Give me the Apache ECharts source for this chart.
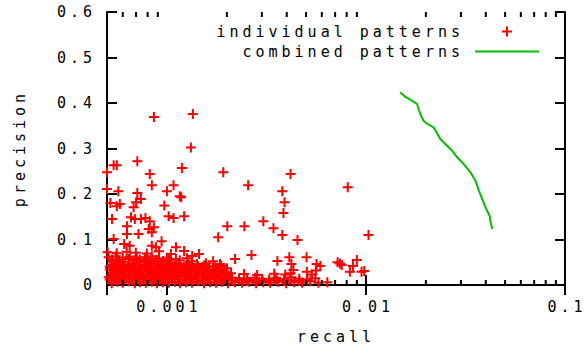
<!DOCTYPE html>
<html><head><meta charset="utf-8">
<script src="https://cdn.jsdelivr.net/npm/echarts@6/dist/echarts.min.js"></script>
<style>html,body{margin:0;padding:0;background:#fff}#main{width:587px;height:349px;letter-spacing:4px}</style>
</head><body><div id="main"></div>
<script>
// ---- data ----
var seriesNames = ['individual patterns', 'combined patterns'];
var axisNames = { x: 'recall', y: 'precision' };
var xMin = 0.0005, xMax = 0.1;
var yTicks = [0, 0.1, 0.2, 0.3, 0.4, 0.5, 0.6];
var xMinorTicks = [0.0006, 0.0007, 0.0008, 0.0009, 0.002, 0.003, 0.004, 0.005, 0.006, 0.007, 0.008, 0.009,
  0.02, 0.03, 0.04, 0.05, 0.06, 0.07, 0.08, 0.09];

// individual patterns: [recall, precision]
var individualSparse = [
  [0.00086,0.369],[0.00135,0.376],[0.00132,0.302],[0.00071,0.272],[0.00054,0.263],[0.00056,0.263],
  [0.00050,0.248],[0.00082,0.244],[0.00119,0.257],[0.00192,0.248],[0.00418,0.244],[0.00084,0.219],
  [0.00108,0.219],[0.00100,0.206],[0.00050,0.211],[0.00057,0.206],[0.00071,0.202],[0.00116,0.195],
  [0.00256,0.219],[0.00380,0.206],[0.0081,0.215],[0.00052,0.180],[0.00056,0.173],[0.00058,0.178],
  [0.00074,0.189],[0.00097,0.175],[0.00118,0.193],[0.00068,0.171],[0.00070,0.182],[0.00049,0.145],
  [0.00053,0.145],[0.00066,0.149],[0.00069,0.145],[0.00074,0.145],[0.00078,0.147],[0.00082,0.140],
  [0.00102,0.151],[0.00108,0.147],[0.00122,0.151],[0.00063,0.129],[0.00072,0.112],[0.00063,0.112],
  [0.00081,0.123],[0.00086,0.127],[0.00084,0.116],[0.00054,0.101],[0.00094,0.096],[0.00061,0.090],
  [0.00065,0.086],[0.00084,0.086],[0.00088,0.083],[0.00111,0.083],[0.00122,0.075],[0.00134,0.064],
  [0.00145,0.068],[0.0039,0.182],[0.00385,0.158],[0.00201,0.129],[0.00245,0.129],[0.00305,0.140],
  [0.00343,0.125],[0.00380,0.110],[0.00181,0.105],[0.00453,0.099],[0.0103,0.110],[0.00220,0.057],
  [0.00266,0.066],[0.00359,0.053],[0.00412,0.061],[0.00422,0.046],[0.00503,0.061],[0.00565,0.046],
  [0.00720,0.050],[0.00756,0.044],[0.0083,0.029],[0.0086,0.042],[0.0090,0.055],[0.0095,0.029],
  [0.0098,0.031],[0.0059,0.042],[0.0074,0.047],[0.00432,0.033],[0.00418,0.026],[0.00505,0.029],
  [0.00535,0.023],[0.00560,0.032]
];
var individualDense = [
  [0.000499,0.006],[0.000528,0.004],[0.000566,0.007],[0.000600,0.005],[0.000644,0.008],[0.000690,0.004],
  [0.000731,0.006],[0.000784,0.005],[0.000840,0.007],[0.000891,0.004],[0.000955,0.006],[0.001023,0.005],
  [0.001097,0.007],[0.001162,0.004],[0.001247,0.006],[0.001336,0.005],[0.001433,0.008],[0.001536,0.004],
  [0.001647,0.006],[0.001766,0.005],[0.001893,0.007],[0.002029,0.004],[0.002201,0.006],[0.002386,0.005],
  [0.002588,0.007],[0.002806,0.004],[0.003045,0.006],[0.003303,0.005],[0.003623,0.007],[0.003976,0.004],
  [0.004365,0.006],[0.004786,0.005],[0.005248,0.008],[0.005768,0.005],[0.006397,0.006],
  [0.000516,0.012],[0.000547,0.011],[0.000586,0.013],[0.000621,0.012],[0.000667,0.011],[0.000714,0.013],
  [0.000757,0.012],[0.000811,0.011],[0.000871,0.013],[0.000922,0.012],[0.000988,0.011],[0.001060,0.013],
  [0.001136,0.012],[0.001218,0.011],[0.001306,0.013],[0.001400,0.012],[0.001500,0.011],[0.001609,0.013],
  [0.001726,0.012],[0.001849,0.011],[0.001982,0.013],[0.002125,0.010],[0.002305,0.011],[0.002529,0.009],
  [0.002774,0.011],[0.003010,0.009],[0.003265,0.010],[0.003540,0.011],[0.003884,0.009],[0.004217,0.010],
  [0.004624,0.009],[0.005070,0.010],
  [0.000510,0.017],[0.000547,0.019],[0.000586,0.016],[0.000621,0.018],[0.000667,0.017],[0.000714,0.019],
  [0.000757,0.016],[0.000811,0.018],[0.000871,0.017],[0.000922,0.019],[0.000988,0.016],[0.001060,0.018],
  [0.001136,0.017],[0.001218,0.019],[0.001306,0.016],[0.001400,0.018],[0.001500,0.017],[0.001609,0.019],
  [0.001726,0.016],[0.001849,0.018],[0.001982,0.017],[0.002125,0.016],[0.002305,0.015],[0.002529,0.013],
  [0.002774,0.016],[0.003010,0.014],[0.003265,0.012],[0.003540,0.016],[0.003884,0.013],[0.004217,0.017],
  [0.004624,0.014],[0.005070,0.012],[0.005565,0.015],
  [0.000499,0.023],[0.000528,0.022],[0.000566,0.024],[0.000600,0.023],[0.000644,0.022],[0.000690,0.024],
  [0.000731,0.023],[0.000784,0.022],[0.000840,0.024],[0.000891,0.023],[0.000955,0.022],[0.001023,0.024],
  [0.001097,0.023],[0.001162,0.022],[0.001247,0.024],[0.001336,0.023],[0.001433,0.022],[0.001536,0.024],
  [0.001647,0.023],[0.001766,0.022],[0.001893,0.024],[0.002029,0.021],
  [0.000499,0.029],[0.000535,0.027],[0.000566,0.030],[0.000607,0.028],[0.000651,0.031],[0.000698,0.027],
  [0.000740,0.029],[0.000793,0.028],[0.000850,0.030],[0.000912,0.027],[0.000977,0.029],[0.001047,0.028],
  [0.001123,0.030],[0.001204,0.027],[0.001291,0.029],[0.001384,0.028],[0.001483,0.030],[0.001590,0.027],
  [0.001706,0.029],[0.001828,0.031],[0.001959,0.028],[0.002100,0.026],[0.002442,0.024],[0.002840,0.022],
  [0.003459,0.025],[0.003930,0.023],
  [0.000516,0.034],[0.000547,0.033],[0.000586,0.035],[0.000621,0.034],[0.000667,0.033],[0.000714,0.035],
  [0.000757,0.034],[0.000811,0.033],[0.000871,0.035],[0.000922,0.034],[0.000988,0.033],[0.001060,0.035],
  [0.001136,0.034],[0.001218,0.032],[0.001306,0.035],[0.001400,0.033],[0.001500,0.032],[0.001609,0.034],
  [0.001726,0.033],[0.001849,0.035],
  [0.000516,0.040],[0.000553,0.038],[0.000593,0.041],[0.000636,0.039],[0.000682,0.040],[0.000731,0.038],
  [0.000775,0.041],[0.000830,0.039],[0.000891,0.040],[0.000955,0.038],[0.001023,0.041],[0.001097,0.039],
  [0.001190,0.037],[0.001291,0.040],[0.001400,0.036],[0.001518,0.038],[0.001628,0.041],[0.001746,0.039],
  [0.001871,0.042],[0.002005,0.037],
  [0.000499,0.045],[0.000528,0.044],[0.000566,0.046],[0.000600,0.045],[0.000644,0.044],[0.000690,0.046],
  [0.000731,0.045],[0.000784,0.044],[0.000840,0.046],[0.000891,0.045],[0.000955,0.044],[0.001023,0.046],
  [0.001097,0.043],[0.001162,0.045],[0.001247,0.042],[0.001336,0.044],[0.001433,0.041],[0.001536,0.043],
  [0.000499,0.050],[0.000535,0.052],[0.000573,0.049],[0.000614,0.051],[0.000667,0.048],[0.000714,0.052],
  [0.000766,0.050],[0.000821,0.049],[0.000881,0.051],[0.000944,0.048],[0.001035,0.050],[0.001149,0.047],
  [0.001276,0.049],[0.001416,0.046],[0.001572,0.048],[0.001706,0.052],[0.001849,0.046],
  [0.000528,0.056],[0.000566,0.055],[0.000644,0.057],[0.000690,0.055],[0.000731,0.056],[0.000784,0.054],
  [0.000840,0.057],[0.000891,0.055],[0.000955,0.053],[0.001023,0.055],[0.001162,0.054],[0.001336,0.052],
  [0.000510,0.061],[0.000553,0.063],[0.000600,0.060],[0.000651,0.062],[0.000706,0.059],[0.000775,0.061],
  [0.000840,0.063],[0.000912,0.058],[0.001000,0.060],[0.001110,0.057],[0.001261,0.059],
  [0.000504,0.072],[0.000560,0.070],[0.000628,0.073],[0.000698,0.071],[0.000793,0.069],[0.000912,0.074],
  [0.001047,0.068]
];

// combined patterns curve
var combinedRecall = [0.01486,0.01574,0.01702,0.01804,0.01874,0.01947,0.02064,0.02187,0.02276,0.02364,0.02506,
  0.02709,0.02872,0.03099,0.03351,0.03552,0.03691,0.03840,0.04022,0.04181,0.04230,0.04314];
var combinedPrecision = [0.4235,0.4138,0.4051,0.3978,0.3758,0.3611,0.3523,0.3466,0.3334,0.3209,0.3099,
  0.2952,0.2807,0.2659,0.2477,0.2292,0.2073,0.1890,0.1670,0.1523,0.1378,0.1231];

// ---- chart ----
var FONT = "'DejaVu Sans Mono', monospace";
var PLUS = 'path://M4,0H6V4H10V6H6V10H4V6H0V4H4Z';
var RED = '#ff0000', GREEN = '#00c000';

var individualData = individualSparse.concat(individualDense);
var combinedData = combinedRecall.map(function (r, i) { return [r, combinedPrecision[i]]; });

function fmtX(v) {
  var l = Math.log(v) / Math.LN10;
  if (Math.abs(l - Math.round(l)) > 1e-6) return '';
  return String(+v.toPrecision(6));
}

var axisLineStyle = { color: '#000', width: 2 };
var option = {
  animation: false,
  backgroundColor: '#fff',
  textStyle: { fontFamily: FONT, fontSize: 15, color: '#000' },
  grid: { left: 107, right: 22, top: 12, bottom: 63, containLabel: false },
  legend: [
    {
      data: [{ name: seriesNames[0], icon: PLUS }],
      right: 75, top: 24, orient: 'vertical', align: 'right', padding: 0,
      itemWidth: 10, itemHeight: 10, selectedMode: false,
      textStyle: { fontFamily: FONT, fontSize: 15, color: '#000', padding: [0, 33, 0, 0] }
    },
    {
      data: [{ name: seriesNames[1], icon: 'rect' }],
      right: 48, top: 44, orient: 'vertical', align: 'right', padding: 0,
      itemWidth: 64, itemHeight: 2, selectedMode: false,
      textStyle: { fontFamily: FONT, fontSize: 15, color: '#000', padding: [0, 6, 0, 0] }
    }
  ],
  xAxis: [
    {
      type: 'log', logBase: 10, min: xMin, max: xMax, position: 'bottom',
      name: axisNames.x, nameLocation: 'middle', nameGap: 44,
      nameTextStyle: { fontFamily: FONT, fontSize: 15, color: '#000' },
      axisLine: { show: true, lineStyle: axisLineStyle },
      axisTick: { show: true, inside: true, length: 10, lineStyle: { color: '#000', width: 2 } },
      axisLabel: { show: true, formatter: fmtX, margin: 14, padding: [0, 0, 0, 4], color: '#000',
        fontFamily: FONT, fontSize: 15, showMinLabel: false },
      splitLine: { show: false }, minorTick: { show: false }
    },
    {
      type: 'log', logBase: 10, min: xMin, max: xMax, position: 'top',
      axisLine: { show: true, lineStyle: axisLineStyle },
      axisTick: { show: true, inside: true, length: 10, lineStyle: { color: '#000', width: 2 } },
      axisLabel: { show: false }, splitLine: { show: false }
    }
  ],
  yAxis: [
    {
      type: 'value', min: yTicks[0], max: yTicks[yTicks.length - 1], interval: 0.1, position: 'left',
      name: axisNames.y, nameLocation: 'middle', nameGap: 80,
      nameTextStyle: { fontFamily: FONT, fontSize: 15, color: '#000' },
      axisLine: { show: true, lineStyle: axisLineStyle },
      axisTick: { show: true, inside: true, length: 10, lineStyle: { color: '#000', width: 2 } },
      axisLabel: { show: true, margin: 11, color: '#000', fontFamily: FONT, fontSize: 15 },
      splitLine: { show: false }
    },
    {
      type: 'value', min: yTicks[0], max: yTicks[yTicks.length - 1], interval: 0.1, position: 'right',
      axisLine: { show: true, lineStyle: axisLineStyle },
      axisTick: { show: true, inside: true, length: 10, lineStyle: { color: '#000', width: 2 } },
      axisLabel: { show: false }, splitLine: { show: false }
    }
  ],
  series: [
    {
      type: 'custom', name: 'minorTicks', xAxisIndex: 0, yAxisIndex: 0, silent: true, clip: false, z: 5,
      data: xMinorTicks.map(function (v) { return [v, 0]; }),
      renderItem: function (params, api) {
        var b = api.coord([api.value(0), yTicks[0]]);
        var t = api.coord([api.value(0), yTicks[yTicks.length - 1]]);
        var st = { stroke: '#000', lineWidth: 2 };
        return { type: 'group', children: [
          { type: 'line', shape: { x1: b[0], y1: b[1], x2: b[0], y2: b[1] - 5 }, style: st },
          { type: 'line', shape: { x1: t[0], y1: t[1], x2: t[0], y2: t[1] + 5 }, style: st }
        ] };
      }
    },
    {
      type: 'scatter', name: seriesNames[0], data: individualData,
      symbol: PLUS, symbolSize: 10, symbolKeepAspect: true,
      itemStyle: { color: RED, opacity: 1 }, emphasis: { disabled: true }, z: 3
    },
    {
      type: 'line', name: seriesNames[1], data: combinedData,
      symbol: 'none', showSymbol: false,
      lineStyle: { color: GREEN, width: 2 }, itemStyle: { color: GREEN },
      emphasis: { disabled: true }, z: 4
    }
  ]
};

var chart = echarts.init(document.getElementById('main'), null, { renderer: 'svg' });
chart.setOption(option);
</script>
</body></html>
